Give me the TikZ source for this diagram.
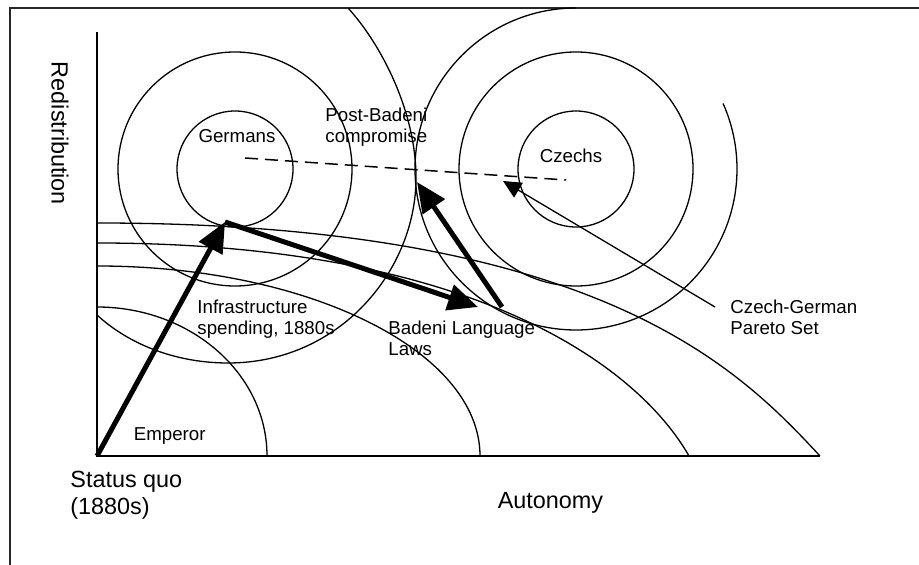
\documentclass[tikz,border=0pt]{standalone}
\usepackage{fontspec}
\setmainfont{Liberation Sans}
\usetikzlibrary{arrows.meta}
\tikzset{
  curve/.style={line width=0.65pt},
  move/.style={line width=2.5pt,-{Triangle[length=15pt,width=13pt]}},
  lbl/.style={inner sep=0pt,align=left,font=\fontsize{9.35pt}{10.5pt}\selectfont},
  biglbl/.style={inner sep=0pt,align=left,font=\fontsize{11.7pt}{13.2pt}\selectfont}
}
\begin{document}
\begin{tikzpicture}[x=0.5pt,y=-0.5pt]
\useasboundingbox (0,0) rectangle (919,565);
% frame
\draw[line width=1pt,black!85] (10,565) -- (10,8) -- (919,8);

% axes
\coordinate (O) at (97,456);
\draw[line width=1pt] (97,32) -- (O) -- (820,456);
\node[biglbl,rotate=-90] (redis) at (60,133.5) {Redistribution};
\node[biglbl,anchor=base] (auto) at (550.5,509) {Autonomy};

% emperor indifference curves
\draw[curve] (97,307) arc[start angle=-90,end angle=0,x radius=170,y radius=149];
\draw[curve] (97,266) arc[start angle=-90,end angle=0,x radius=383,y radius=190];
\draw[curve] (97,243) .. controls (480,243) and (640,370) .. (689,456);
\draw[curve] (97,223) .. controls (600,223) and (740,370) .. (820,456);
\node[lbl,anchor=base west] (emp) at (133.5,441) {Emperor};

% german ideal point
\coordinate (G) at (235,169);
\draw[curve] (G) circle[radius=58] (G) circle[radius=117];
\draw[curve] (348,8) .. controls (380,43) and (416,110) .. (416,178)
  .. controls (416,270) and (340,363) .. (228,363)
  .. controls (180,363) and (132,347) .. (97,315);
\node[lbl,anchor=base] (ger) at (237,143) {Germans};

% czech ideal point
\coordinate (C) at (576,169);
\draw[curve] (C) circle[radius=58] (C) circle[radius=117];
\draw[curve] (576,8) arc[start angle=-90,end angle=-384,radius=161];
\node[lbl,anchor=base] (cze) at (571,163) {Czechs};

% pareto set
\coordinate (P1) at (245,158);
\coordinate (P2) at (566,180);
\draw[line width=0.75pt,dash pattern=on 6.5pt off 3.5pt] (P1) -- (P2);
\node[lbl,anchor=north west] (par) at (730,300) {Czech-German\\Pareto Set};
\coordinate (Pfrom) at (715,307);
\coordinate (Pto) at (503,181);
\draw[curve,-{Triangle[length=9pt,width=8.5pt]}] (Pfrom) -- (Pto);

% policy moves
\coordinate (I) at (225,222);
\coordinate (B1) at (478,307);
\coordinate (B2) at (502,307);
\coordinate (PB) at (417,182);
\draw[move] (O) -- (I);
\draw[move] (I) -- (B1);
\draw[move] (B2) -- (PB);

% move labels
\node[biglbl,anchor=north west] (sq) at (70,471) {Status quo\\(1880s)};
\node[lbl,anchor=north west] (inf) at (197,300) {Infrastructure\\spending, 1880s};
\node[lbl,anchor=north west] (bad) at (388,321) {Badeni Language\\Laws};
\node[lbl,anchor=north west] (post) at (325,108) {Post-Badeni\\compromise};
\end{tikzpicture}
\end{document}
